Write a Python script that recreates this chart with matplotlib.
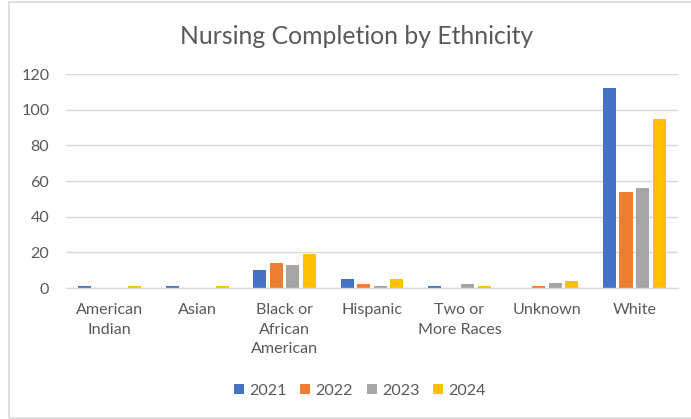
import matplotlib
matplotlib.use("Agg")
import matplotlib.pyplot as plt
import numpy as np
from matplotlib.patches import Rectangle

categories = ["American\nIndian", "Asian", "Black or\nAfrican\nAmerican", "Hispanic",
              "Two or\nMore Races", "Unknown", "White"]
years = ["2021", "2022", "2023", "2024"]
v2021 = [1, 1, 10, 5, 1, 0, 112]
v2022 = [0, 0, 14, 2, 0, 1, 54]
v2023 = [0, 0, 13, 1, 2, 3, 56]
v2024 = [1, 1, 19, 5, 1, 4, 95]
yticks = [0, 20, 40, 60, 80, 100, 120]

colors = ["#4472C4", "#ED7D31", "#A5A5A5", "#FFC000"]
text_color = "#595959"
font = "Lato"
fs = 11.6

W, H = 691, 419
fig = plt.figure(figsize=(W / 100, H / 100), dpi=100)
fig.patch.set_facecolor("white")

# chart border
fig.add_artist(Rectangle((9 / W, 1 - 418 / H), (W + 5) / W, (416) / H,
                         transform=fig.transFigure, fill=False,
                         edgecolor="#D9D9D9", linewidth=1.2))

ax = fig.add_axes([66 / W, 1 - 288 / H, (678 - 66) / W, (288 - 74) / H])
x = np.arange(len(categories))
pitch = 0.19
bw = 0.15
for i, (vals, c, lab) in enumerate(zip([v2021, v2022, v2023, v2024], colors, years)):
    ax.bar(x + (i - 1.5) * pitch, vals, width=bw, color=c, label=lab, zorder=3)

ax.set_xlim(-0.5, len(categories) - 0.5)
ax.set_ylim(0, 120)
ax.set_yticks(yticks)
ax.set_yticklabels([str(t) for t in yticks], fontsize=fs, color=text_color, fontfamily=font)
ax.set_xticks(x)
ax.set_xticklabels(categories, fontsize=fs, color=text_color, fontfamily=font, linespacing=1.5,
                   va="top")
ax.tick_params(axis="both", length=0)
ax.tick_params(axis="y", pad=12)
ax.tick_params(axis="x", pad=11)
ax.grid(axis="y", color="#D9D9D9", linewidth=1, zorder=0)
for s in ["top", "right", "left"]:
    ax.spines[s].set_visible(False)
ax.spines["bottom"].set_color("#D9D9D9")
ax.spines["bottom"].set_linewidth(1)
ax.spines["bottom"].set_zorder(4)

fig.text(357 / W, 1 - 37 / H, "Nursing Completion by Ethnicity", ha="center", va="center",
         fontsize=17.8, color=text_color, fontfamily=font)

leg = fig.legend(loc="center", bbox_to_anchor=(360 / W, 1 - 391 / H), ncol=4, frameon=False,
                 prop={"family": font, "size": fs}, handlelength=0.6, handleheight=0.6,
                 handletextpad=0.35, columnspacing=0.85)
for t in leg.get_texts():
    t.set_color(text_color)

fig.savefig("out.png", dpi=100, facecolor="white")
